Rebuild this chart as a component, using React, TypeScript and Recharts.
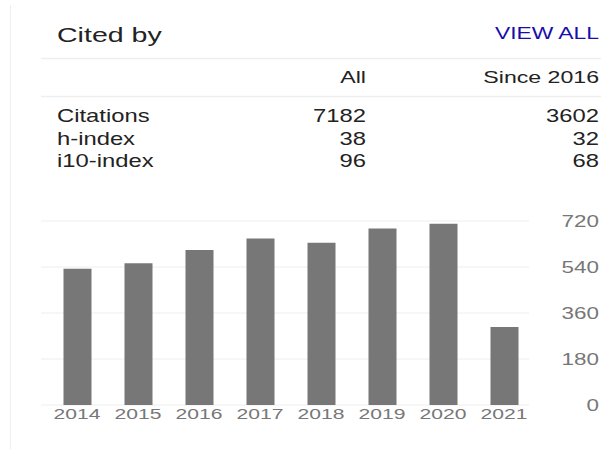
import React from "react";
import { BarChart, Bar, XAxis, YAxis, CartesianGrid } from "recharts";

const years = ["2014", "2015", "2016", "2017", "2018", "2019", "2020", "2021"];
const citations = [533, 555, 607, 652, 635, 691, 709, 305];
const yTicks = [0, 180, 360, 540, 720];

const statLabels = ["Citations", "h-index", "i10-index"];
const statAll = ["7182", "38", "96"];
const statSince = ["3602", "32", "68"];
const colHeaders = ["All", "Since 2016"];

const data = years.map((y, i) => ({ year: y, value: citations[i] }));

const FONT = "'Liberation Sans', Arial, sans-serif";
const SX = 1.36;

const XTick = (props: any) => {
  const { x, y, payload } = props;
  return (
    <text
      transform={`translate(${x},${y + 13.5}) scale(${SX},1)`}
      textAnchor="middle"
      fill="#777"
      fontSize={15.5}
      fontFamily={FONT}
    >
      {payload.value}
    </text>
  );
};

const YTick = (props: any) => {
  const { x, y, payload } = props;
  return (
    <text
      transform={`translate(${x + 70},${y}) scale(${SX},1)`}
      textAnchor="end"
      dy="0.355em"
      fill="#777"
      fontSize={16.5}
      fontFamily={FONT}
    >
      {payload.value}
    </text>
  );
};

const T = ({ x, y, anchor = "start", size, color = "#222", children }: any) => (
  <text
    transform={`translate(${x},${y}) scale(${SX},1)`}
    textAnchor={anchor}
    fontSize={size}
    fill={color}
    fontFamily={FONT}
  >
    {children}
  </text>
);

export default function App() {
  const rowBase = [122, 145, 167];
  return (
    <div style={{ position: "absolute", left: 0, top: 0, width: 601, height: 449, background: "#fff", overflow: "hidden" }}>
      <svg width={601} height={449} style={{ position: "absolute", left: 0, top: 0 }}>
        <line x1={10.5} y1={5} x2={10.5} y2={449} stroke="#eeeeee" strokeWidth={1} />
        <T x={57} y={42} size={21}>Cited by</T>
        <T x={599} y={39} size={16.8} anchor="end" color="#1a0dab">VIEW ALL</T>
        <line x1={41} y1={58.5} x2={601} y2={58.5} stroke="#eeeeee" strokeWidth={1.5} />
        <T x={366} y={83} size={17} anchor="end">{colHeaders[0]}</T>
        <T x={599} y={83} size={17} anchor="end">{colHeaders[1]}</T>
        <line x1={41} y1={96.5} x2={601} y2={96.5} stroke="#eeeeee" strokeWidth={1.5} />
        {statLabels.map((l, i) => (
          <g key={l}>
            <T x={57} y={rowBase[i]} size={17.5}>{l}</T>
            <T x={366} y={rowBase[i]} size={17.5} anchor="end">{statAll[i]}</T>
            <T x={599} y={rowBase[i]} size={17.5} anchor="end">{statSince[i]}</T>
          </g>
        ))}
      </svg>
      <div style={{ position: "absolute", left: 0, top: 200 }}>
        <BarChart width={601} height={249} data={data} margin={{ top: 21, right: 0, left: 41, bottom: 24 }}>
          <CartesianGrid vertical={false} stroke="#eeeeee" strokeWidth={1} />
          <XAxis
            dataKey="year"
            axisLine={false}
            tickLine={false}
            tickSize={0}
            tickMargin={0}
            height={20}
            interval={0}
            padding={{ left: 5.5, right: -5.5 }}
            tick={<XTick />}
          />
          <YAxis
            orientation="right"
            domain={[0, 720]}
            ticks={yTicks}
            axisLine={false}
            tickLine={false}
            tickSize={0}
            tickMargin={0}
            width={72}
            interval={0}
            tick={<YTick />}
          />
          <Bar dataKey="value" fill="#777777" barSize={28} isAnimationActive={false} />
        </BarChart>
      </div>
    </div>
  );
}
